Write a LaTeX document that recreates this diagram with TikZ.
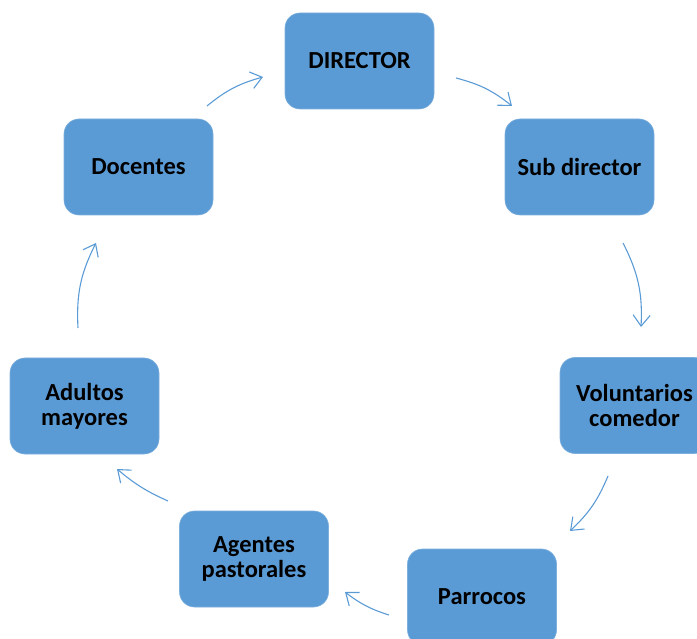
\documentclass[tikz,border=0pt]{standalone}
\usepackage{fontspec}
\setmainfont{Carlito}
\usetikzlibrary{arrows.meta}
\definecolor{boxblue}{HTML}{5B9BD5}
\begin{document}
\begin{tikzpicture}[x=1pt,y=-1pt,
  box/.style={fill=boxblue, draw=boxblue!80!white, line width=0.6pt, rounded corners=15pt,
    minimum width=149pt, minimum height=96pt, inner sep=0pt,
    align=center, font=\bfseries\fontsize{24.5}{25}\selectfont, text=black},
  conn/.style={draw=boxblue, line width=1.1pt,
    -{Straight Barb[length=11pt,width=17pt,line width=1.1pt]}}]
\useasboundingbox (0,0) rectangle (697,639);
\clip (0,0) rectangle (697,639);
\node[box] (dir) at (359.5,61) {DIRECTOR};
\node[box] (sub) at (579.5,167) {Sub director};
\node[box] (vol) at (634.5,405.5) {Voluntarios\\comedor};
\node[box] (par) at (482,597) {Parrocos};
\node[box] (age) at (254,559) {Agentes\\pastorales};
\node[box] (adu) at (84.5,406) {Adultos\\mayores};
\node[box] (doc) at (138.5,167) {Docentes};
\coordinate (a1s) at (456,78);  \coordinate (a1e) at (512,106);
\coordinate (a2s) at (623,243); \coordinate (a2e) at (641,327);
\coordinate (a3s) at (608,476); \coordinate (a3e) at (570,531);
\coordinate (a4s) at (389,615); \coordinate (a4e) at (345,592);
\coordinate (a5s) at (168,501); \coordinate (a5e) at (117,469);
\coordinate (a6s) at (78,328);  \coordinate (a6e) at (96,243);
\coordinate (a7s) at (207,106); \coordinate (a7e) at (263,77);
\draw[conn] (a1s) to[bend left=12] (a1e);
\draw[conn] (a2s) to[bend left=15] (a2e);
\draw[conn] (a3s) to[bend left=12] (a3e);
\draw[conn] (a4s) to[bend left=10] (a4e);
\draw[conn] (a5s) to[bend left=8] (a5e);
\draw[conn] (a6s) to[bend left=15] (a6e);
\draw[conn] (a7s) to[bend left=12] (a7e);
\end{tikzpicture}
\end{document}
